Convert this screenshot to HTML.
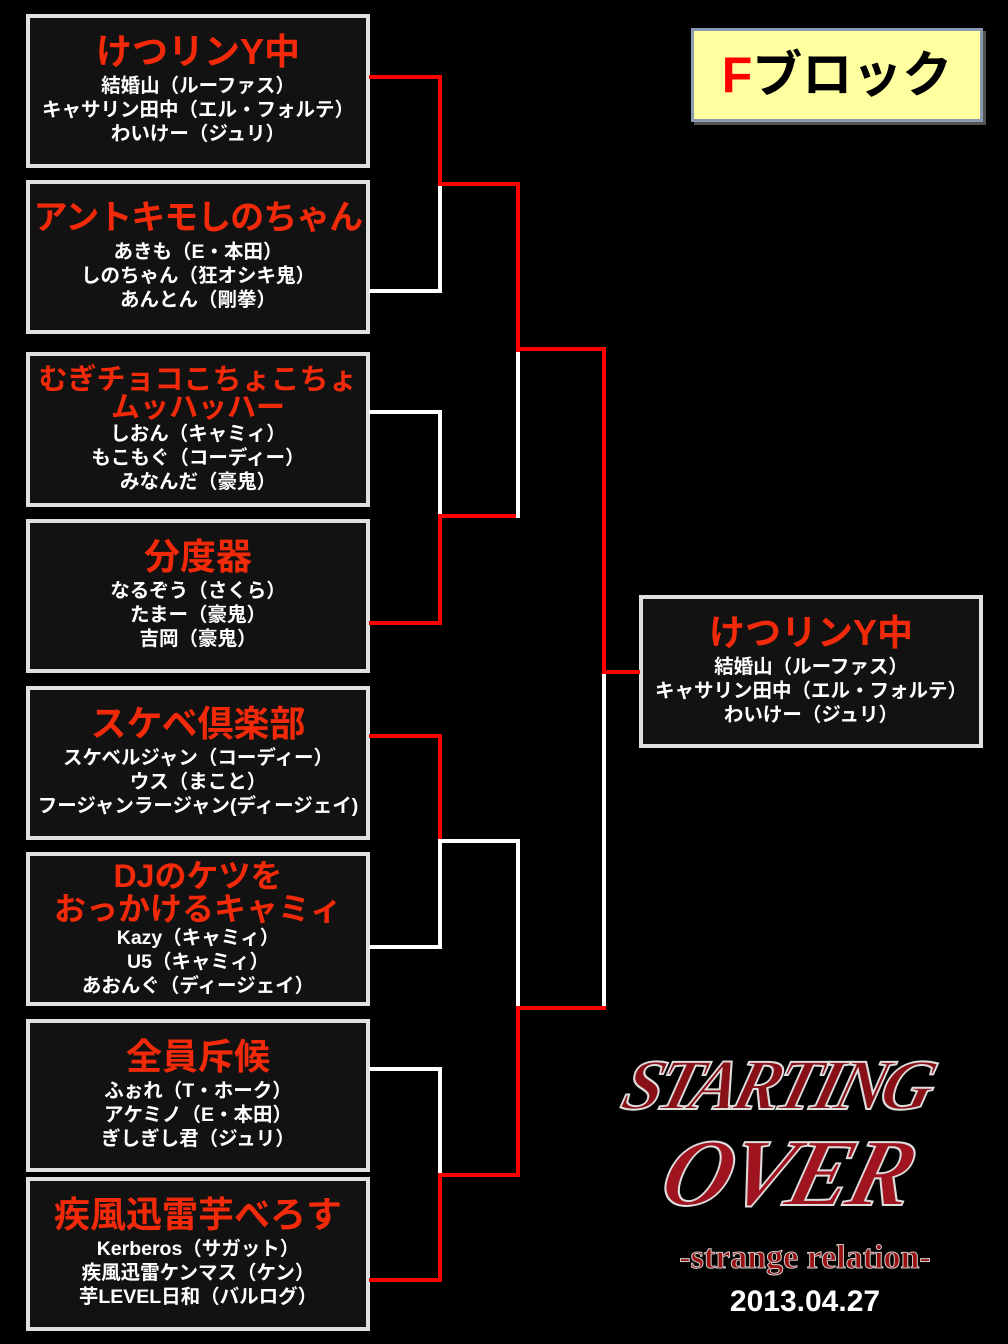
<!DOCTYPE html>
<html><head><meta charset="utf-8"><style>
body{margin:0;width:1008px;height:1344px;background:#000;position:relative;overflow:hidden;font-family:"Liberation Sans","Noto Sans CJK JP",sans-serif;}
.box{position:absolute;left:26px;width:336px;background:#121212;border:4px solid #e0e0e0;text-align:center;color:#fff;font-weight:bold;display:flex;flex-direction:column;justify-content:center;}
.t{color:#f22a0a;font-size:36px;line-height:38px;white-space:nowrap;margin-bottom:3px;margin-top:-3px;}
.s{font-size:19.5px;line-height:24px;white-space:nowrap;}
.l{position:absolute;}
.r{background:#f00}.w{background:#fff}
</style></head><body>
<div class="box" style="top:14px;height:146px"><div class="t">けつリンY中</div><div class="s">結婚山（ルーファス）<br>キャサリン田中（エル・フォルテ）<br>わいけー（ジュリ）</div></div>
<div class="box" style="top:180px;height:146px"><div class="t" style="font-size:34px;letter-spacing:-1px">アントキモしのちゃん</div><div class="s">あきも（E・本田）<br>しのちゃん（狂オシキ鬼）<br>あんとん（剛拳）</div></div>
<div class="box" style="top:352px;height:147px"><div class="t" style="font-size:29px;line-height:28px;margin:0">むぎチョコこちょこちょ<br>ムッハッハー</div><div class="s">しおん（キャミィ）<br>もこもぐ（コーディー）<br>みなんだ（豪鬼）</div></div>
<div class="box" style="top:519px;height:146px"><div class="t">分度器</div><div class="s">なるぞう（さくら）<br>たまー（豪鬼）<br>吉岡（豪鬼）</div></div>
<div class="box" style="top:686px;height:146px"><div class="t">スケベ倶楽部</div><div class="s">スケベルジャン（コーディー）<br>ウス（まこと）<br>フージャンラージャン(ディージェイ)</div></div>
<div class="box" style="top:852px;height:146px"><div class="t" style="font-size:32px;line-height:33px;margin:0">DJのケツを<br>おっかけるキャミィ</div><div class="s">Kazy（キャミィ）<br>U5（キャミィ）<br>あおんぐ（ディージェイ）</div></div>
<div class="box" style="top:1019px;height:145px"><div class="t">全員斥候</div><div class="s">ふぉれ（T・ホーク）<br>アケミノ（E・本田）<br>ぎしぎし君（ジュリ）</div></div>
<div class="box" style="top:1177px;height:146px"><div class="t">疾風迅雷芋べろす</div><div class="s">Kerberos（サガット）<br>疾風迅雷ケンマス（ケン）<br>芋LEVEL日和（バルログ）</div></div>
<div class="box" style="left:639px;top:595px;height:145px"><div class="t">けつリンY中</div><div class="s">結婚山（ルーファス）<br>キャサリン田中（エル・フォルテ）<br>わいけー（ジュリ）</div></div>

<div style="position:absolute;left:691px;top:28px;width:286px;height:88px;background:#ffffa0;border:3px solid #8a9ab0;box-shadow:3px 3px 0 #555;font-weight:bold;font-size:50px;line-height:88px;text-align:center;color:#000"><span style="color:#f00">F</span>ブロック</div>

<div class="l r" style="left:369px;top:75px;width:73px;height:4px"></div>
<div class="l r" style="left:438px;top:75px;width:4px;height:112px"></div>
<div class="l w" style="left:369px;top:289px;width:73px;height:4px"></div>
<div class="l w" style="left:438px;top:185px;width:4px;height:108px"></div>
<div class="l r" style="left:438px;top:182px;width:82px;height:4px"></div>
<div class="l r" style="left:516px;top:182px;width:4px;height:170px"></div>
<div class="l w" style="left:369px;top:410px;width:73px;height:4px"></div>
<div class="l w" style="left:438px;top:410px;width:4px;height:106px"></div>
<div class="l r" style="left:369px;top:621px;width:73px;height:4px"></div>
<div class="l r" style="left:438px;top:514px;width:4px;height:111px"></div>
<div class="l r" style="left:438px;top:514px;width:82px;height:4px"></div>
<div class="l w" style="left:516px;top:352px;width:4px;height:166px"></div>
<div class="l r" style="left:516px;top:347px;width:90px;height:4px"></div>
<div class="l r" style="left:602px;top:347px;width:4px;height:327px"></div>
<div class="l r" style="left:602px;top:670px;width:38px;height:4px"></div>
<div class="l w" style="left:602px;top:674px;width:4px;height:336px"></div>
<div class="l r" style="left:369px;top:734px;width:73px;height:4px"></div>
<div class="l r" style="left:438px;top:734px;width:4px;height:109px"></div>
<div class="l w" style="left:369px;top:945px;width:73px;height:4px"></div>
<div class="l w" style="left:438px;top:840px;width:4px;height:109px"></div>
<div class="l w" style="left:438px;top:839px;width:82px;height:4px"></div>
<div class="l w" style="left:516px;top:839px;width:4px;height:170px"></div>
<div class="l w" style="left:369px;top:1067px;width:73px;height:4px"></div>
<div class="l w" style="left:438px;top:1067px;width:4px;height:108px"></div>
<div class="l r" style="left:369px;top:1278px;width:73px;height:4px"></div>
<div class="l r" style="left:438px;top:1173px;width:4px;height:109px"></div>
<div class="l r" style="left:438px;top:1173px;width:82px;height:4px"></div>
<div class="l r" style="left:516px;top:1008px;width:4px;height:169px"></div>
<div class="l r" style="left:516px;top:1006px;width:90px;height:4px"></div>

<div style="position:absolute;left:625px;top:1045px;width:370px;height:200px;">
<div style="position:absolute;left:0;top:0;font:italic bold 72px/80px 'Liberation Serif',serif;color:#8a1018;-webkit-text-stroke:2px #ddd;letter-spacing:-6px;transform:skewX(-15deg);">STARTING</div>
<div style="position:absolute;left:40px;top:78px;font:italic bold 96px/100px 'Liberation Serif',serif;color:#a01420;-webkit-text-stroke:2px #ddd;letter-spacing:-4px;transform:skewX(-15deg);">OVER</div>
</div>
<div style="position:absolute;left:655px;top:1238px;width:300px;text-align:center;font:bold 34px/40px 'Liberation Serif',serif;color:#9a1010;-webkit-text-stroke:1px #ccc">-strange relation-</div>
<div style="position:absolute;left:700px;top:1284px;width:210px;text-align:center;font:bold 30px/36px 'Liberation Sans',sans-serif;color:#fff">2013.04.27</div>
</body></html>
